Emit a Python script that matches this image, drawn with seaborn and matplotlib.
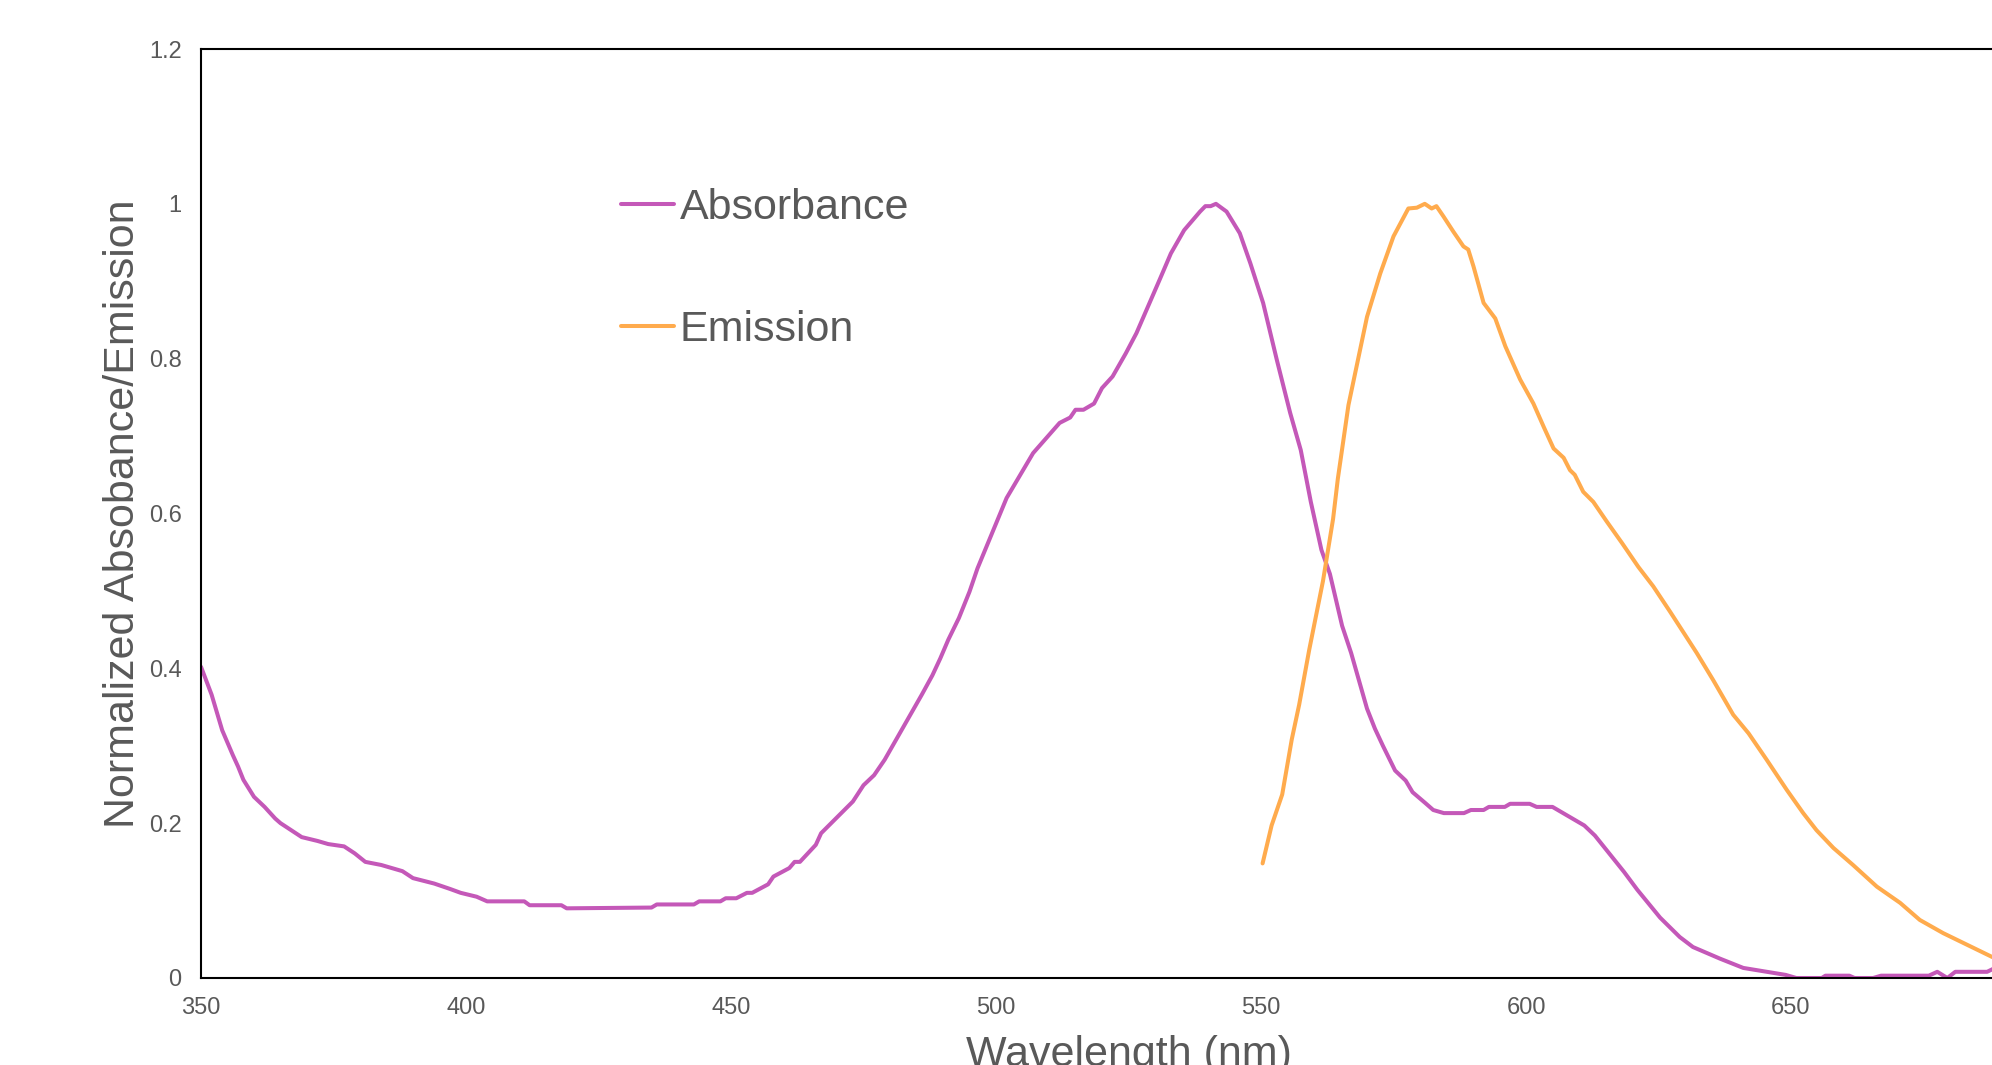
import matplotlib
matplotlib.use('agg')
import matplotlib.pyplot as plt
import numpy as np
import pandas as pd
import seaborn as sns

# absorbance spectrum
abs_nm = [350, 352, 354, 356, 357, 358, 360, 362, 364, 365, 367, 369, 372, 374, 377,
          379, 381, 384, 386, 388, 390, 394, 397, 399, 402, 404, 411, 412, 418, 419,
          435, 436, 443, 444, 448, 449, 451, 453, 454, 457, 458, 461, 462, 463, 466,
          467, 472, 473, 475, 477, 479, 486, 488, 489.5, 491, 493, 495, 496.5, 502, 507,
          512, 514, 515, 516.5, 518.5, 520, 522, 524.5, 526.5, 531, 533, 535.5, 538.5, 539.5,
          540.5, 541.5, 543.5, 546, 548, 550.4, 553, 555.5, 557.5, 559.4, 561.4, 563, 565.3,
          567, 570, 571.5, 573, 575.3, 577.3, 578.6, 581, 582.5, 584.5, 588.3, 589.6, 592,
          593, 596, 597, 600.7, 602, 605, 611, 613, 618.5, 621, 625.3, 629, 631.5, 636.6,
          641, 645.5, 649, 651, 655.8, 656.5, 661, 662, 665.5, 667, 676, 677.6, 679.5, 681,
          687, 688.5]
abs_val = [0.402, 0.366, 0.320, 0.288, 0.273, 0.256, 0.234, 0.221, 0.206, 0.200, 0.191, 0.182, 0.177, 0.173, 0.170,
           0.161, 0.150, 0.146, 0.142, 0.138, 0.129, 0.122, 0.115, 0.110, 0.105, 0.099, 0.099, 0.094, 0.094, 0.090,
           0.091, 0.095, 0.095, 0.099, 0.099, 0.103, 0.103, 0.110, 0.110, 0.121, 0.131, 0.142, 0.150, 0.150, 0.172,
           0.187, 0.221, 0.228, 0.249, 0.262, 0.282, 0.366, 0.391, 0.413, 0.437, 0.465, 0.499, 0.529, 0.620, 0.678,
           0.717, 0.724, 0.734, 0.734, 0.742, 0.762, 0.777, 0.807, 0.833, 0.904, 0.936, 0.966, 0.990, 0.997,
           0.997, 1.000, 0.990, 0.962, 0.923, 0.872, 0.798, 0.730, 0.682, 0.615, 0.553, 0.522, 0.455,
           0.420, 0.348, 0.322, 0.300, 0.268, 0.255, 0.240, 0.226, 0.217, 0.213, 0.213, 0.217, 0.217,
           0.221, 0.221, 0.225, 0.225, 0.221, 0.221, 0.197, 0.184, 0.137, 0.114, 0.078, 0.053, 0.040, 0.025,
           0.013, 0.008, 0.004, 0.0, 0.0, 0.003, 0.003, 0.0, 0.0, 0.003, 0.003, 0.008, 0.0, 0.008,
           0.008, 0.013]

# emission spectrum
em_nm = [550.3, 552, 554, 555.8, 557.2, 559.1, 561.7, 563.6, 564.5, 566.5, 570, 572.5, 575, 577.8,
         579.4, 580.9, 582.2, 583.1, 584.4, 586.3, 588.2, 589.1, 590.1, 592, 594.2, 596.1, 598.9,
         601.4, 603.4, 605.2, 607.1, 608.3, 609.2, 610.8, 612.7, 615.2, 618.1, 621.2, 624, 627.2,
         632.2, 635.3, 639.1, 642, 645.4, 649.2, 652.3, 654.8, 658, 661.7, 666.2, 670.6, 674.3,
         678.7, 683.2, 688]
em_val = [0.148, 0.197, 0.237, 0.308, 0.353, 0.424, 0.513, 0.593, 0.645, 0.740, 0.854, 0.910, 0.958, 0.994,
          0.995, 1.000, 0.994, 0.997, 0.984, 0.964, 0.945, 0.941, 0.919, 0.872, 0.852, 0.816, 0.773,
          0.742, 0.711, 0.684, 0.672, 0.656, 0.650, 0.628, 0.615, 0.590, 0.562, 0.531, 0.506, 0.473,
          0.420, 0.385, 0.340, 0.316, 0.282, 0.243, 0.213, 0.191, 0.168, 0.146, 0.118, 0.097, 0.075,
          0.058, 0.043, 0.027]

series = ['Absorbance', 'Emission']
colors = ['#C458B8', '#FFAB4D']
xticks = [350, 400, 450, 500, 550, 600, 650]
yticks = [0, 0.2, 0.4, 0.6, 0.8, 1.0, 1.2]
ytick_labels = ['0', '0.2', '0.4', '0.6', '0.8', '1', '1.2']

df = pd.concat([
    pd.DataFrame({'nm': abs_nm, 'val': abs_val, 'series': series[0]}),
    pd.DataFrame({'nm': em_nm, 'val': em_val, 'series': series[1]}),
])

sns.set_style('white')
plt.rcParams['font.family'] = ['Liberation Sans', 'DejaVu Sans']
grey = '#595959'

fig = plt.figure(figsize=(19.92, 10.65), dpi=100)
# axes run past the right edge of the picture, like the cropped original (x up to 700)
ax = fig.add_axes([201/1992, 87/1065, 1855/1992, 929/1065])

sns.lineplot(data=df, x='nm', y='val', hue='series', hue_order=series,
             palette=colors, linewidth=2.9, estimator=None, sort=False, ax=ax)

ax.set_xlim(350, 700)
ax.set_ylim(0, 1.2)
ax.set_xticks(xticks)
ax.set_yticks(yticks)
ax.set_yticklabels(ytick_labels)
ax.tick_params(axis='both', length=0, labelsize=17, labelcolor=grey)
ax.tick_params(axis='x', pad=13.5)
ax.tick_params(axis='y', pad=14)
for s in ax.spines.values():
    s.set_color('black')
    s.set_linewidth(1.5)

ax.set_xlabel('Wavelength (nm)', fontsize=31, color=grey, labelpad=12)
ax.set_ylabel('Normalized Absobance/Emission', fontsize=31, color=grey, labelpad=4)

leg = ax.legend(loc='upper left', bbox_to_anchor=(621/1992, 1 - 188/1065),
                bbox_transform=fig.transFigure, frameon=False, fontsize=31,
                handlelength=1.22, handletextpad=0.15, labelspacing=1.9,
                borderpad=0, borderaxespad=0)
for t in leg.get_texts():
    t.set_color(grey)
for l in leg.get_lines():
    l.set_linewidth(2.9)

fig.savefig('out.png', dpi=100)
